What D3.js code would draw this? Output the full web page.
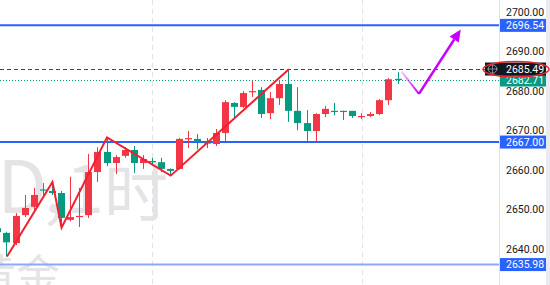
<!DOCTYPE html>
<html>
<head>
<meta charset="utf-8">
<script src="https://cdn.jsdelivr.net/npm/d3@7"></script>
<style>
	html, body { margin: 0; padding: 0; background: #fff; }
	svg { display: block; }
	.axis text { font-family: Roboto, "Liberation Sans", sans-serif; font-size: 10.5px; fill: #131722; }
	.tag text { font-family: Roboto, "Liberation Sans", sans-serif; font-size: 10.5px; fill: #fff; }
	.mark { font-family: "Noto Sans CJK SC", "Noto Sans", sans-serif; fill: #e4e4e6; }
</style>
</head>
<body>
<svg id="chart" width="550" height="285"></svg>
<script>
// candles, 1h XAUUSD (index = bar number)
var open  = [2645.2,2644.0,2641.4,2648.5,2650.6,2655.0,2654.6,2654.1,2647.3,2648.0,2648.5,2659.4,2664.5,2661.7,2663.5,2665.0,2661.7,2662.2,2661.9,2660.2,2660.2,2667.8,2667.8,2666.9,2666.5,2669.3,2676.9,2675.9,2679.7,2680.2,2674.3,2678.1,2681.7,2674.9,2671.8,2669.8,2674.1,2674.9,2674.9,2674.9,2673.4,2673.6,2674.1,2677.6,2683.0];
var high  = [2645.8,2644.3,2649.0,2653.6,2655.4,2656.6,2656.9,2654.6,2658.2,2655.4,2664.0,2665.7,2668.2,2663.7,2665.7,2666.0,2663.7,2663.0,2663.0,2660.3,2668.0,2669.8,2669.0,2668.0,2670.3,2677.6,2677.1,2679.9,2682.5,2680.9,2679.7,2682.5,2685.45,2680.9,2675.1,2674.3,2676.1,2676.9,2674.95,2674.9,2674.3,2674.6,2677.9,2683.2,2684.7];
var low   = [2643.6,2638.0,2640.9,2648.0,2649.8,2653.4,2653.6,2645.3,2646.9,2645.5,2647.8,2656.9,2660.9,2658.9,2663.0,2659.2,2660.2,2661.2,2659.4,2658.5,2660.0,2665.5,2665.2,2665.5,2666.0,2667.0,2673.1,2675.6,2678.4,2673.1,2672.8,2676.4,2672.1,2670.0,2667.3,2667.0,2673.3,2673.8,2672.6,2673.1,2672.8,2673.3,2673.8,2676.4,2681.7];
var close = [2644.2,2641.6,2648.3,2650.3,2653.6,2654.8,2654.1,2647.8,2648.0,2648.3,2659.4,2664.5,2661.7,2663.2,2665.0,2661.7,2662.7,2661.9,2660.2,2659.7,2667.8,2668.0,2667.0,2666.7,2669.3,2677.1,2675.9,2679.4,2679.9,2674.1,2678.1,2681.7,2674.9,2671.8,2669.8,2674.1,2675.4,2674.6,2674.6,2673.6,2673.6,2674.1,2677.6,2682.9,2682.71];

var sessionStarts = [17, 40];
var priceTicks = [2640, 2650, 2660, 2670, 2680, 2690, 2700];
var levels = [2696.54, 2667.00, 2635.98];
var levelColors = ['#2962ff', '#2962ff', '#8ea6ff'];
var markedHigh = 2685.49;
var lastPrice = 2682.71;

// zigzag drawn on the chart (bar index, price)
var zigzagBars   = [1, 6, 7, 12, 19, 32];
var zigzagPrices = [2638.0, 2656.9, 2645.3, 2668.2, 2658.5, 2685.45];

// projected path (bar index, price)
var arrowBars   = [44.4, 46.3, 50.9];
var arrowPrices = [2684.8, 2679.2, 2695.5];

(function() {

	var W = 550, H = 285, paneW = 499;
	var upColor = '#f23645', downColor = '#089981';

	var svg = d3.select('#chart');

	var x = d3.scaleLinear().domain([0, 44]).range([-2.1, 398]);
	var y = d3.scaleLinear().domain([2640, 2700]).range([248.7, 11.7]);

	var defs = svg.append('defs');
	defs.append('clipPath').attr('id', 'pane')
		.append('rect').attr('width', paneW).attr('height', H);

	var pane = svg.append('g').attr('clip-path', 'url(#pane)');

	// watermark (symbol, interval / description), cut off by the pane's left edge
	var mark = pane.append('text').attr('class', 'mark').attr('y', 213);
	mark.append('tspan').attr('x', 47).attr('text-anchor', 'end')
		.style('font-size', '72px').text('XAUUSD');
	mark.append('tspan').attr('x', 44)
		.style('font-size', '72px').text(',');
	mark.append('tspan').attr('x', 66)
		.style('font-size', '68px').text('1');
	mark.append('tspan').attr('x', 104).attr('dy', 3)
		.style('font-size', '64px').text('时');

	pane.append('text').attr('class', 'mark')
		.attr('x', 60).attr('y', 292).attr('text-anchor', 'end')
		.style('font-size', '44px')
		.text('黄金');

	// session separators
	pane.selectAll('.session')
		.data(sessionStarts)
		.enter().append('line')
		.attr('x1', function(d) { return Math.round(x(d)) + 0.5; })
		.attr('x2', function(d) { return Math.round(x(d)) + 0.5; })
		.attr('y1', 0).attr('y2', H)
		.attr('stroke', '#dfe2e8')
		.attr('stroke-dasharray', '5,4');

	// horizontal levels
	pane.selectAll('.level')
		.data(levels)
		.enter().append('line')
		.attr('x1', 0).attr('x2', paneW)
		.attr('y1', function(d) { return y(d); })
		.attr('y2', function(d) { return y(d); })
		.attr('stroke', function(d, i) { return levelColors[i]; })
		.attr('stroke-width', 2);

	pane.append('line')
		.attr('x1', 0).attr('x2', paneW)
		.attr('y1', Math.round(y(markedHigh)) + 0.5).attr('y2', Math.round(y(markedHigh)) + 0.5)
		.attr('stroke', '#434651')
		.attr('stroke-dasharray', '4,3');

	pane.append('line')
		.attr('x1', 0).attr('x2', paneW)
		.attr('y1', Math.round(y(lastPrice)) + 0.5).attr('y2', Math.round(y(lastPrice)) + 0.5)
		.attr('stroke', downColor)
		.attr('stroke-dasharray', '1,2');

	// candles
	var candles = open.map(function(o, i) {
		return { i: i, o: o, h: high[i], l: low[i], c: close[i] };
	});

	var g = pane.selectAll('.candle')
		.data(candles)
		.enter().append('g')
		.attr('class', 'candle');

	g.append('rect')
		.attr('x', function(d) { return Math.floor(x(d.i)); })
		.attr('width', 1)
		.attr('y', function(d) { return y(d.h); })
		.attr('height', function(d) { return Math.max(1, y(d.l) - y(d.h)); })
		.attr('fill', function(d) { return d.c >= d.o ? upColor : downColor; });

	g.append('rect')
		.attr('x', function(d) { return Math.floor(x(d.i)) - 3; })
		.attr('width', 7)
		.attr('y', function(d) { return y(Math.max(d.o, d.c)); })
		.attr('height', function(d) { return Math.max(1.2, Math.abs(y(d.o) - y(d.c))); })
		.attr('fill', function(d) { return d.c >= d.o ? upColor : downColor; });

	// zigzag
	var zz = zigzagBars.map(function(b, i) { return [x(b), y(zigzagPrices[i])]; });
	pane.append('path')
		.attr('d', d3.line()(zz))
		.attr('fill', 'none')
		.attr('stroke', '#f2202f')
		.attr('stroke-width', 2)
		.attr('stroke-linejoin', 'miter');

	// projection arrow
	var ap = arrowBars.map(function(b, i) { return [x(b), y(arrowPrices[i])]; });
	var grad = defs.append('linearGradient').attr('id', 'fade')
		.attr('gradientUnits', 'userSpaceOnUse')
		.attr('x1', ap[0][0]).attr('y1', ap[0][1])
		.attr('x2', ap[1][0]).attr('y2', ap[1][1]);
	grad.append('stop').attr('offset', 0).attr('stop-color', '#c800ff').attr('stop-opacity', 0.2);
	grad.append('stop').attr('offset', 1).attr('stop-color', '#c800ff').attr('stop-opacity', 1);

	pane.append('path')
		.attr('d', d3.line()([ap[0], ap[1]]))
		.attr('stroke', 'url(#fade)').attr('stroke-width', 2).attr('fill', 'none');

	var tip = ap[2], from = ap[1];
	var dx = tip[0] - from[0], dy = tip[1] - from[1];
	var len = Math.sqrt(dx * dx + dy * dy);
	var ux = dx / len, uy = dy / len;
	var headL = 12, headW = 5.5;
	var base = [tip[0] - ux * headL, tip[1] - uy * headL];

	pane.append('path')
		.attr('d', d3.line()([from, base]))
		.attr('stroke', '#c800ff').attr('stroke-width', 2.5).attr('fill', 'none');

	pane.append('path')
		.attr('d', d3.line()([
			tip,
			[base[0] - uy * headW, base[1] + ux * headW],
			[base[0] + uy * headW, base[1] - ux * headW]
		]) + 'Z')
		.attr('fill', '#c800ff');

	// price axis
	svg.append('rect')
		.attr('x', 546).attr('y', 0).attr('width', 4).attr('height', H)
		.attr('fill', '#e9ebf0');
	svg.append('line')
		.attr('x1', paneW + 0.5).attr('x2', paneW + 0.5)
		.attr('y1', 0).attr('y2', H)
		.attr('stroke', '#e0e3eb');

	var axis = d3.axisRight(y)
		.tickValues(priceTicks)
		.tickSize(0)
		.tickPadding(7)
		.tickFormat(d3.format('.2f'));

	svg.append('g')
		.attr('class', 'axis')
		.attr('transform', 'translate(' + paneW + ',0)')
		.call(axis)
		.call(function(s) { s.select('.domain').remove(); });

	function tag(value, fill, left) {
		var t = svg.append('g').attr('class', 'tag');
		var cy = y(value);
		t.append('rect')
			.attr('x', left).attr('y', cy - 6.5)
			.attr('width', 546 - left).attr('height', 13)
			.attr('fill', fill);
		t.append('text')
			.attr('x', 506).attr('y', cy)
			.attr('dy', '0.35em')
			.text(d3.format('.2f')(value));
		return t;
	}

	levels.forEach(function(v) { tag(v, '#2962ff', paneW + 1); });
	tag(lastPrice, downColor, paneW + 1);
	tag(markedHigh, '#131722', 485);

	// crosshair icon on the dark tag
	var icy = y(markedHigh);
	svg.append('circle').attr('cx', 492.5).attr('cy', icy).attr('r', 4.2)
		.attr('fill', 'none').attr('stroke', '#9598a1').attr('stroke-width', 1);
	svg.append('path')
		.attr('d', 'M492.5,' + (icy - 5.5) + 'V' + (icy + 5.5) + 'M487,' + icy + 'H498')
		.attr('stroke', '#9598a1').attr('stroke-width', 0.8);

	// red ellipse annotation
	svg.append('ellipse')
		.attr('cx', 516).attr('cy', icy + 0.2)
		.attr('rx', 33).attr('ry', 7.8)
		.attr('fill', 'none')
		.attr('stroke', '#e8282f')
		.attr('stroke-width', 1.5);

})();
</script>
</body>
</html>
